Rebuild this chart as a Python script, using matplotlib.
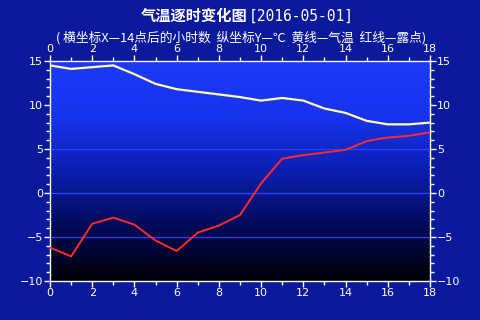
import numpy as np
import matplotlib
matplotlib.use("Agg")
import matplotlib.pyplot as plt
from matplotlib.colors import LinearSegmentedColormap

hours = list(range(19))
temperature = [14.5, 14.1, 14.3, 14.5, 13.5, 12.4, 11.8, 11.5, 11.2, 10.9,
               10.5, 10.8, 10.5, 9.6, 9.1, 8.2, 7.8, 7.8, 8.0]
dewpoint = [-6.2, -7.2, -3.5, -2.8, -3.6, -5.4, -6.6, -4.5, -3.7, -2.5,
            1.1, 3.9, 4.3, 4.6, 4.9, 5.9, 6.3, 6.5, 6.9]
x_ticks = list(range(0, 19, 2))
y_ticks = [-10, -5, 0, 5, 10, 15]
grid_levels = [5, 0, -5]
title_main = "气温逐时变化图"
title_date = "[2016-05-01]"
subtitle = "( 横坐标X—14点后的小时数  纵坐标Y—℃  黄线—气温  红线—露点)"

fams = ["Noto Sans CJK SC", "DejaVu Sans"]
plt.rcParams['font.family'] = fams

fig = plt.figure(figsize=(4.8, 3.2), dpi=100)
fig.patch.set_facecolor("#0b1a9c")
ax = fig.add_axes([50/480, 1-281/320, 380/480, 220/320])

# gradient background
cmap = LinearSegmentedColormap.from_list("bg", ["#000006", "#030a58", "#0a1fb0", "#1733ee", "#1c3af8"])
grad = np.linspace(0, 1, 256).reshape(-1, 1)
ax.imshow(grad, aspect="auto", cmap=cmap, origin="lower",
          extent=[0, 18, -10, 15], zorder=0)

for g in grid_levels:
    ax.axhline(g, color="#2a3cff", lw=1.0, zorder=1)

ax.plot(hours, temperature, color="#ffffa8", lw=1.6, zorder=3)
ax.plot(hours, dewpoint, color="#ff2a2a", lw=1.4, zorder=3)

ax.set_xlim(0, 18)
ax.set_ylim(-10, 15)
ax.set_xticks(x_ticks)
ax.set_xticks(range(19), minor=True)
ax.set_yticks(y_ticks)
ax.set_yticks(range(-10, 16), minor=True)
ax.tick_params(which="both", colors="white", direction="out",
               top=True, right=True, labeltop=True, labelright=True,
               labelsize=8)
ax.tick_params(which="major", length=4, width=1, pad=1)
ax.tick_params(which="minor", length=3, width=1)
for lab in ax.get_xticklabels() + ax.get_yticklabels():
    lab.set_family("DejaVu Sans")
for s in ax.spines.values():
    s.set_color("white")
    s.set_linewidth(1)

fig.text(248/480, 1-16/320, title_main, color="white", fontsize=11,
         fontweight="bold", ha="right", va="center", family=fams)
fig.text(249/480, 1-16/320, title_date, color="white", fontsize=10.5,
         ha="left", va="center", family=["DejaVu Sans Mono"])
fig.text(241/480, 1-38/320, subtitle, color="white", fontsize=9.2,
         ha="center", va="center", family=fams)

fig.savefig("out.png", dpi=100, facecolor=fig.get_facecolor())
